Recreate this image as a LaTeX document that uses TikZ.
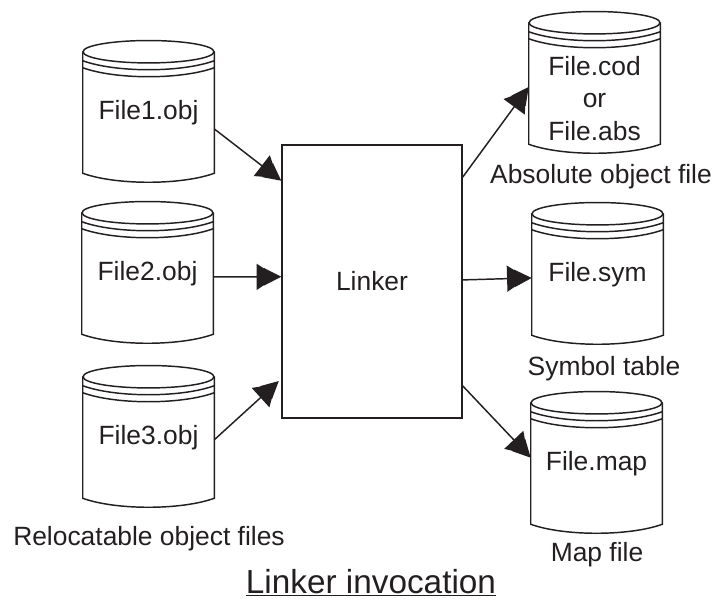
\documentclass[tikz,border=0pt]{standalone}
\usepackage{fontspec}
\setmainfont{Liberation Sans}
\usetikzlibrary{arrows.meta}
\definecolor{ink}{RGB}{35, 31, 32}
\tikzset{
	can/.style={minimum width=98.25pt, minimum height=90.75pt, inner sep=0pt, align=center, text=ink, font=\fontsize{19.8}{24.4}\selectfont},
	caption/.style={anchor=base, inner sep=0pt, text=ink, font=\fontsize{19.8}{24.4}\selectfont},
	link/.style={draw=ink, line width=1.1pt, -{Triangle[length=15pt,width=19.5pt,sep=-9.5pt,fill=ink] Triangle[length=13pt,width=13pt,fill=ink]}}
}

\begin{document}
\begin{tikzpicture}[x=0.75pt,y=-0.75pt]
	\useasboundingbox (0,0) rectangle (714,599);
	\foreach \Name/\X/\Y/\Txt in {file1/148.5/112.5/File1.obj, file2/147.5/273.5/File2.obj,
	file3/148.5/437.5/File3.obj, filecod/594.5/83.5/{\mbox{}\\[12pt]File.cod\\or\\File.abs},
	filesym/597.5/274.5/File.sym, filemap/596.5/463.5/File.map}{
		\node[can] (\Name) at (\X,\Y) {\Txt};
		\draw[ink, line width=1.1pt] (\Name.north) ellipse [x radius=49.1pt, y radius=8.4pt];
		\draw[ink, line width=1.1pt] (\Name.north west)--(\Name.south west)
		.. controls +(33,12) and +(-33,12) .. (\Name.south east)--(\Name.north east);
		\draw[ink, line width=1.1pt] ([yshift=-6.75pt]\Name.north west)
		.. controls +(33,12) and +(-33,12) .. ([yshift=-6.75pt]\Name.north east);
		\draw[ink, line width=1.1pt] ([yshift=-12pt]\Name.north west)
		.. controls +(33,12) and +(-33,12) .. ([yshift=-12pt]\Name.north east);
	}
	\node[can, draw=ink, line width=1.1pt, minimum width=135pt, minimum height=204.75pt] (linker) at (372,281.5) {Linker};
	\draw[link] (file1.-14.1)--(linker.132.1);
	\draw[link] (file2.-3.05)--(linker.177.1);
	\draw[link, shorten >=2.5pt] (file3.-2.2)--(linker.227.4);
	\draw[link] (linker.49.8)--(filecod.183.06);
	\draw[link] (linker.1.6)--(filesym.183.9);
	\draw[link] (linker.-49)--(filemap.175.2);
	\node[caption] (relcap) at (149,545) {Relocatable object files};
	\node[caption] (abscap) at (601,184) {Absolute object file};
	\node[caption] (symcap) at (604,375) {Symbol table};
	\node[caption] (mapcap) at (597,561) {Map file};
	\node[caption, font=\fontsize{25}{30}\selectfont] (title) at (371,593) {\underline{Linker invocation}};
\end{tikzpicture}
\end{document}
